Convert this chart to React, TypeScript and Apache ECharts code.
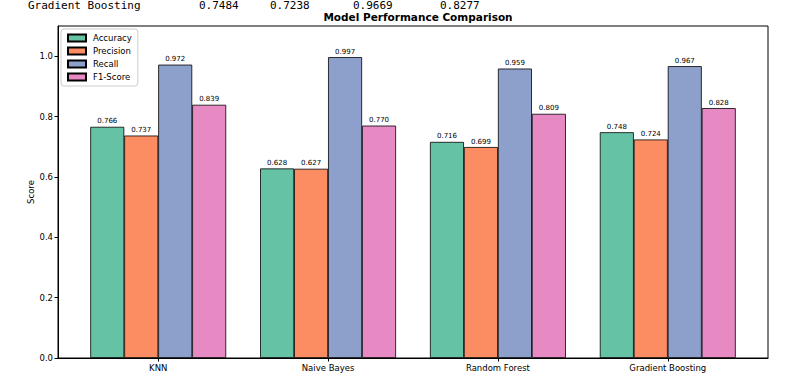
import React, { useEffect, useRef } from "react";
import * as echarts from "echarts";

const categories = ["KNN", "Naive Bayes", "Random Forest", "Gradient Boosting"];
const metrics = ["Accuracy", "Precision", "Recall", "F1-Score"];
const accuracy = [0.766, 0.628, 0.716, 0.748];
const precision = [0.737, 0.627, 0.699, 0.724];
const recall = [0.972, 0.997, 0.959, 0.967];
const f1Score = [0.839, 0.77, 0.809, 0.828];
const yTicks = [0, 0.2, 0.4, 0.6, 0.8, 1.0];
const topRowTexts = ["Gradient Boosting", "0.7484", "0.7238", "0.9669", "0.8277"];

const colors = ["#66c2a5", "#fc8d62", "#8da0cb", "#e78ac3"];
const offsets = [-0.3, -0.1, 0.1, 0.3];
const topRowX = [28, 199, 270, 353, 440];
const FONT = "DejaVu Sans";

export default function App() {
  const ref = useRef<HTMLDivElement>(null);
  useEffect(() => {
    if (!ref.current) return;
    const chart = echarts.init(ref.current, undefined, { renderer: "svg" });
    const all = [accuracy, precision, recall, f1Score];
    chart.setOption({
      animation: false,
      backgroundColor: "#fff",
      textStyle: { fontFamily: FONT },
      title: {
        text: "Model Performance Comparison",
        left: 413,
        textAlign: "center",
        top: 6,
        textStyle: { fontFamily: FONT, fontWeight: "bold", fontSize: 10.5, color: "#000" },
      },
      graphic: topRowTexts.map((t, i) => ({
        type: "text",
        x: topRowX[i],
        y: 0,
        style: {
          text: t,
          fontFamily: "DejaVu Sans Mono",
          fontSize: 11,
          fill: "#000",
          verticalAlign: "top",
        },
      })),
      legend: {
        orient: "vertical",
        left: 61,
        top: 29,
        data: metrics,
        icon: "rect",
        itemWidth: 18,
        itemHeight: 7,
        itemGap: 3,
        padding: [4, 6, 4, 6],
        backgroundColor: "#fff",
        borderColor: "#cccccc",
        borderWidth: 1,
        borderRadius: 3,
        textStyle: {
          fontFamily: FONT,
          fontSize: 8.5,
          color: "#000",
          lineHeight: 10,
          padding: [0, 0, 0, 2],
        },
      },
      grid: {
        left: 58,
        right: 27,
        top: 26,
        bottom: 29,
        show: true,
        borderColor: "#000",
        borderWidth: 1,
        backgroundColor: "transparent",
      },
      xAxis: {
        type: "value",
        min: -0.59,
        max: 3.59,
        splitLine: { show: false },
        axisLine: { show: true, onZero: false, lineStyle: { color: "#000", width: 1 } },
        axisTick: {
          show: true,
          customValues: [0, 1, 2, 3],
          length: 3.5,
          lineStyle: { color: "#000" },
        },
        axisLabel: {
          customValues: [0, 1, 2, 3],
          formatter: (v: number) => categories[Math.round(v)] ?? "",
          fontFamily: FONT,
          fontSize: 8.5,
          color: "#000",
          margin: 5,
        },
      },
      yAxis: {
        type: "value",
        min: 0,
        max: 1.1,
        interval: 0.2,
        name: "Score",
        nameLocation: "middle",
        nameGap: 23,
        nameMoveOverlap: false,
        nameTextStyle: { fontFamily: FONT, fontSize: 8.5, color: "#000" },
        splitLine: { show: false },
        axisLine: { show: true, onZero: false, lineStyle: { color: "#000", width: 1 } },
        axisTick: {
          show: true,
          customValues: yTicks,
          length: 3.5,
          lineStyle: { color: "#000" },
        },
        axisLabel: {
          customValues: yTicks,
          formatter: (v: number) => v.toFixed(1),
          fontFamily: FONT,
          fontSize: 8.5,
          color: "#000",
          margin: 5,
        },
      },
      series: metrics.map((m, si) => ({
        name: m,
        type: "bar",
        barWidth: 34,
        barGap: "-100%",
        itemStyle: { color: colors[si], borderColor: "#000", borderWidth: 0.8 },
        label: {
          show: true,
          position: "top",
          distance: 2,
          fontFamily: FONT,
          fontSize: 7,
          color: "#000",
          formatter: (p: any) => p.value[1].toFixed(3),
        },
        data: all[si].map((v, i) => [i + offsets[si], v]),
      })),
    });
    return () => chart.dispose();
  }, []);
  return (
    <div
      ref={ref}
      style={{ position: "fixed", left: 0, top: 0, width: 795, height: 387 }}
    />
  );
}
